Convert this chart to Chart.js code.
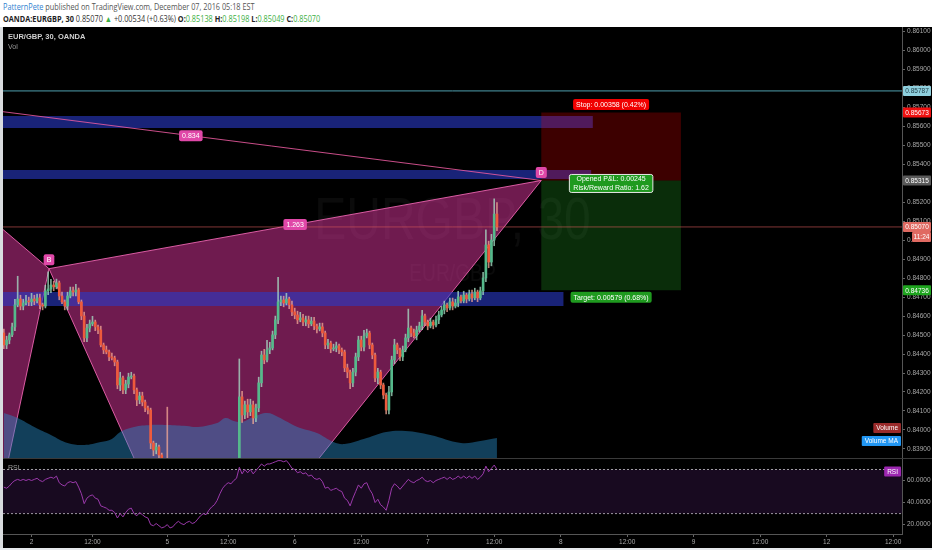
<!DOCTYPE html>
<html>
<head>
<meta charset="utf-8">
<script src="https://cdn.jsdelivr.net/npm/chart.js@4.4.1/dist/chart.umd.min.js"></script>
<style>
  html, body { margin: 0; padding: 0; width: 932px; height: 550px; overflow: hidden; background: #fff; }
  .hdr { position: absolute; left: 3px; white-space: nowrap; font-family: "Open Sans", sans-serif; font-size: 8.5px; color: #555; transform: scaleX(0.86); transform-origin: 0 0; }
  #hdr1 { top: 1px; }
  #hdr2 { top: 13px; color: #333; }
  #hdr1 .user { color: #2f7fd0; }
  #hdr2 b { font-weight: 700; color: #222; }
  #hdr2 .g { color: #3cb043; }
  #frame { position: absolute; left: 3px; top: 27px; width: 929px; height: 521px; background: #000; }
  #strip { position: absolute; left: 0; top: 548px; width: 932px; height: 2px; background: #e6e9ec; }
  #leftEdge { position: absolute; left: 0; top: 27px; width: 3px; height: 523px; background: #d9dcdf; }
  #mainWrap { position: absolute; left: 3px; top: 27px; }
  #rsiWrap { position: absolute; left: 3px; top: 459px; }
  #sep { position: absolute; left: 3px; top: 458px; width: 929px; height: 1px; background: #3a3a3a; }
</style>
</head>
<body>
<div id="hdr1" class="hdr"><span class="user">PatternPete</span> published on TradingView.com, December 07, 2016 05:18 EST</div>
<div id="hdr2" class="hdr"><b>OANDA:EURGBP, 30</b> 0.85070 <span class="g">&#9650;</span> +0.00534 (+0.63%) <b>O:</b><span class="g">0.85138</span> <b>H:</b><span class="g">0.85198</span> <b>L:</b><span class="g">0.85049</span> <b>C:</b><span class="g">0.85070</span></div>
<div id="leftEdge"></div>
<div id="frame"></div>
<div id="strip"></div>
<div id="mainWrap"><canvas id="mainChart" width="929" height="431"></canvas></div>
<div id="sep"></div>
<div id="rsiWrap"><canvas id="rsiChart" width="929" height="89"></canvas></div>

<script>
// ---- data (30 min bars, index 0 = first bar on screen) ----
const firstOpen = 0.84511;
const closes = [
  0.84448, 0.84474, 0.84501, 0.84543, 0.84659, 0.84690, 0.84653, 0.84669, 0.84680, 0.84675,
  0.84690, 0.84680, 0.84696, 0.84659, 0.84653, 0.84733, 0.84743, 0.84764, 0.84754, 0.84775,
  0.84706, 0.84675, 0.84653, 0.84706, 0.84733, 0.84727, 0.84738, 0.84675, 0.84601, 0.84485,
  0.84537, 0.84559, 0.84569, 0.84543, 0.84527, 0.84448, 0.84422, 0.84411, 0.84385, 0.84379,
  0.84358, 0.84237, 0.84274, 0.84211, 0.84242, 0.84279, 0.84284, 0.84211, 0.84158, 0.84179,
  0.84147, 0.84116, 0.84105, 0.83931, 0.83894, 0.83910, 0.83868, 0.83831, 0.83780, 0.83450,
  0.83320, 0.83250, 0.83300, 0.83180, 0.83220, 0.83150, 0.83200, 0.83120, 0.83090, 0.83140,
  0.83100, 0.83070, 0.83180, 0.83250, 0.83330, 0.83420, 0.83500, 0.83580, 0.83650, 0.83700,
  0.83720, 0.83760, 0.83740, 0.83780, 0.83800, 0.84174, 0.84079, 0.84132, 0.84095, 0.84132,
  0.84063, 0.84116, 0.84248, 0.84395, 0.84369, 0.84422, 0.84432, 0.84501, 0.84580, 0.84675,
  0.84685, 0.84669, 0.84690, 0.84659, 0.84622, 0.84606, 0.84580, 0.84590, 0.84569, 0.84580,
  0.84559, 0.84574, 0.84548, 0.84532, 0.84543, 0.84511, 0.84448, 0.84458, 0.84427, 0.84432,
  0.84443, 0.84422, 0.84411, 0.84327, 0.84305, 0.84248, 0.84305, 0.84385, 0.84474, 0.84437,
  0.84495, 0.84511, 0.84448, 0.84395, 0.84274, 0.84305, 0.84237, 0.84184, 0.84105, 0.84200,
  0.84369, 0.84448, 0.84422, 0.84385, 0.84422, 0.84485, 0.84537, 0.84511, 0.84495, 0.84527,
  0.84548, 0.84601, 0.84569, 0.84548, 0.84569, 0.84553, 0.84580, 0.84606, 0.84632, 0.84659,
  0.84643, 0.84675, 0.84653, 0.84669, 0.84701, 0.84680, 0.84711, 0.84690, 0.84717, 0.84696,
  0.84727, 0.84696, 0.84733, 0.84801, 0.84975, 0.84885, 0.85001, 0.85138, 0.85070
];
// wick lengths in pips above / below the body
const upWick = [
  2, 2, 1, 2, 3, 12, 2, 2, 3, 2,   3, 2, 2, 2, 1, 3, 9, 3, 2, 2,
  1, 2, 1, 2, 2, 2, 3, 1, 1, 2,    2, 2, 3, 1, 1, 2, 1, 2, 1, 2,
  1, 1, 3, 1, 2, 2, 2, 1, 1, 2,    2, 1, 1, 1, 1, 2, 1, 1, 1, 34,
  2, 2, 3, 2, 2, 2, 3, 2, 2, 2,    2, 2, 3, 3, 2, 3, 2, 3, 2, 3,
  2, 3, 2, 2, 2, 20, 3, 2, 3, 3,   2, 2, 3, 2, 3, 5, 3, 2, 2, 13,
  2, 2, 3, 1, 2, 2, 2, 3, 2, 2,    2, 2, 2, 1, 2, 2, 1, 2, 1, 2,
  2, 1, 1, 1, 2, 1, 2, 2, 2, 2,    3, 2, 1, 1, 1, 2, 1, 1, 1, 3,
  2, 3, 1, 1, 2, 2, 10, 1, 2, 2,   2, 3, 1, 1, 2, 1, 2, 2, 2, 2,
  1, 2, 2, 2, 3, 1, 2, 1, 2, 2,    2, 1, 2, 3, 8, 2, 3, 8, 6
];
const downWick = [
  2, 2, 2, 1, 2, 1, 2, 2, 1, 2,    2, 2, 1, 2, 2, 1, 2, 2, 2, 1,
  2, 1, 2, 2, 1, 2, 2, 1, 2, 2,    2, 2, 1, 2, 2, 1, 2, 1, 2, 1,
  2, 2, 3, 2, 2, 2, 1, 2, 3, 2,    2, 2, 2, 3, 3, 2, 3, 3, 4, 30,
  4, 3, 3, 4, 3, 4, 3, 3, 4, 3,    3, 4, 2, 2, 3, 2, 2, 3, 2, 2,
  2, 2, 3, 2, 2, 3, 4, 2, 3, 2,    3, 2, 2, 2, 2, 1, 2, 1, 2, 2,
  2, 2, 1, 2, 2, 2, 2, 1, 2, 2,    2, 1, 2, 2, 1, 2, 2, 2, 2, 1,
  2, 2, 2, 2, 3, 3, 2, 2, 2, 2,    2, 1, 2, 2, 2, 3, 2, 2, 2, 2,
  2, 2, 2, 2, 2, 1, 2, 2, 1, 2,    1, 2, 2, 2, 1, 2, 1, 2, 1, 2,
  2, 1, 2, 1, 2, 1, 1, 2, 1, 2,    1, 2, 1, 2, 2, 3, 2, 3, 2
];
const volumeMaBars = [0, 5, 11, 17, 23, 29, 35, 39, 42, 47, 53, 59, 66, 70, 77, 80, 83, 86, 90, 95, 99, 106, 113, 119, 123, 131, 138, 145, 154, 165, 172, 178];
const volumeMa = [45, 40, 31, 23, 15, 13, 16, 19, 26, 31, 33, 33, 32, 31, 35, 40, 37, 36, 41, 45, 41, 31, 25, 16, 14, 20, 26, 27, 23, 15, 17, 20];
const rsiValues = [
  54, 53, 55, 58, 60, 61, 60, 61, 60, 61,   60, 61, 62, 60, 59, 61, 62, 63, 62, 64,
  58, 56, 55, 58, 59, 58, 59, 54, 48, 39,   44, 46, 47, 44, 43, 37, 36, 35, 33, 33,
  31, 26, 30, 27, 31, 34, 35, 30, 28, 31,   29, 27, 26, 20, 19, 21, 19, 17, 18, 20,
  17, 18, 21, 23, 21, 20, 22, 23, 21, 22,   25, 28, 30, 29, 33, 36, 38, 42, 48, 53,
  56, 58, 57, 60, 62, 72, 66, 70, 67, 70,   66, 69, 72, 75, 73, 75, 75, 76, 77, 78,
  78, 77, 78, 75, 71, 70, 67, 68, 66, 67,   64, 65, 62, 61, 62, 59, 53, 54, 51, 52,
  53, 51, 50, 44, 42, 37, 44, 50, 56, 53,   57, 58, 52, 48, 40, 43, 38, 36, 33, 42,
  53, 57, 55, 52, 55, 58, 61, 59, 58, 60,   61, 63, 60, 59, 60, 58, 60, 61, 62, 63,
  61, 63, 61, 62, 64, 62, 64, 62, 64, 62,   64, 61, 63, 66, 73, 68, 71, 74, 70
];

// harmonic pattern points X A B C D
const patternNames = ['X', 'A', 'B', 'C', 'D'];
const patternBars = [-59, -5, 16.3, 71, 194];
const patternPrices = [0.85787, 0.83390, 0.84850, 0.83070, 0.85315];
const patternRatios = ['0.834', '1.263'];

// supply / demand zones
const zoneTops = [0.85655, 0.85370, 0.84727];
const zoneBottoms = [0.85592, 0.85323, 0.84653];
const zoneEnds = [212.6, 212, 202];

// short position tool
const positionBars = [194, 244.4];
const entryPrice = 0.85315;
const stopPrice = 0.85673;
const targetPrice = 0.84736;
const positionTexts = ['Stop: 0.00358 (0.42%)', 'Opened P&L: 0.00245', 'Risk/Reward Ratio: 1.62', 'Target: 0.00579 (0.68%)'];

const lastPrice = 0.85070;
const countdown = '11:24';
const priceTicks = [0.861, 0.860, 0.859, 0.858, 0.857, 0.856, 0.855, 0.854, 0.853, 0.852, 0.851, 0.850,
  0.849, 0.848, 0.847, 0.846, 0.845, 0.844, 0.843, 0.842, 0.841, 0.840, 0.839];
const rsiTicks = [20, 40, 60];
const rsiLevels = [70, 30];
const timeTickBars = [10, 32, 59, 81, 105, 129, 153, 177, 201, 225, 249, 273, 297, 321];
const timeTickLabels = ['2', '12:00', '5', '12:00', '6', '12:00', '7', '12:00', '8', '12:00', '9', '12:00', '12', '12:00'];

// ---- view ----
const X_MIN = -0.3;
const X_MAX = 324.2;
const P_MIN = 0.83852;
const P_MAX = 0.86124;
const PIP = 0.0001;
const FONT = '"Liberation Sans", Arial, sans-serif';
const UP = '#55b98b';
const DOWN = '#ee5a3c';

const candles = closes.map((c, i) => {
  const o = i === 0 ? firstOpen : closes[i - 1];
  return {
    o, c,
    h: Math.max(o, c) + upWick[i] * PIP,
    l: Math.min(o, c) - downWick[i] * PIP
  };
});

function pt(x, y) {
  return { x, y };
}

function rect(x0, x1, y0, y1) {
  return [pt(x0, y0), pt(x1, y0), pt(x1, y1), pt(x0, y1), pt(x0, y0)];
}

function shape(points, fillColor, borderColor, order) {
  return {
    type: 'line',
    data: points,
    fill: 'shape',
    backgroundColor: fillColor,
    borderColor: borderColor || 'rgba(0,0,0,0)',
    borderWidth: borderColor ? 1 : 0,
    pointRadius: 0,
    tension: 0,
    order
  };
}

function hline(points, color, order, dash) {
  return {
    type: 'line',
    data: points,
    fill: false,
    borderColor: color,
    borderWidth: 1,
    borderDash: dash || [],
    pointRadius: 0,
    tension: 0,
    order
  };
}

function tag(ctx, text, cx, cy, bg, fg, opts = {}) {
  const size = opts.size || 7;
  ctx.font = `${opts.bold ? 'bold ' : ''}${size}px ${FONT}`;
  const w = opts.width || ctx.measureText(text).width + 6;
  const h = opts.height || size + 4;
  const x = opts.left !== undefined ? opts.left : (opts.right !== undefined ? opts.right - w : cx - w / 2);
  ctx.fillStyle = bg;
  ctx.beginPath();
  ctx.roundRect(x, cy - h / 2, w, h, opts.radius === undefined ? 2 : opts.radius);
  ctx.fill();
  if (opts.border) {
    ctx.strokeStyle = opts.border;
    ctx.lineWidth = 1;
    ctx.stroke();
  }
  ctx.fillStyle = fg;
  ctx.textAlign = 'center';
  ctx.textBaseline = 'middle';
  ctx.fillText(text, x + w / 2, cy + 0.5);
}

const P = patternBars.map((b, i) => pt(b, patternPrices[i]));

const mainOverlay = {
  id: 'mainOverlay',
  beforeDatasetsDraw(chart) {
    const { ctx, chartArea: a } = chart;
    const cx = (a.left + a.right) / 2;
    ctx.save();
    ctx.fillStyle = 'rgba(255,255,255,0.045)';
    ctx.textAlign = 'center';
    ctx.textBaseline = 'middle';
    ctx.translate(cx, 0);
    ctx.scale(0.8, 1);
    ctx.font = `60px ${FONT}`;
    ctx.fillText('EURGBP, 30', 0, 195);
    ctx.font = `24px ${FONT}`;
    ctx.fillText('EUR/GBP', 0, 247);
    ctx.restore();
  },
  afterDatasetsDraw(chart) {
    const { ctx } = chart;
    const xs = chart.scales.x;
    const ys = chart.scales.y;
    const X = v => xs.getPixelForValue(v);
    const Y = v => ys.getPixelForValue(v);
    ctx.save();
    const pink = '#e048a8';
    // point labels
    tag(ctx, patternNames[2], X(P[2].x), Y(P[2].y) - 9, pink, '#fff', { size: 7 });
    tag(ctx, patternNames[4], X(P[4].x), Y(P[4].y) - 8, pink, '#fff', { size: 7 });
    // ratio labels at line midpoints
    tag(ctx, patternRatios[0], X((P[0].x + P[4].x) / 2), Y((P[0].y + P[4].y) / 2), pink, '#fff', { size: 7 });
    tag(ctx, patternRatios[1], X((P[2].x + P[4].x) / 2), Y((P[2].y + P[4].y) / 2), pink, '#fff', { size: 7 });
    // position labels
    const cx = X((positionBars[0] + positionBars[1]) / 2);
    tag(ctx, positionTexts[0], cx, Y(stopPrice) - 8, '#f00000', '#fff', { size: 7 });
    ctx.font = `7px ${FONT}`;
    const w = Math.max(ctx.measureText(positionTexts[1]).width, ctx.measureText(positionTexts[2]).width) + 8;
    const cy = Y(entryPrice) + 3;
    ctx.fillStyle = '#1f9a1f';
    ctx.strokeStyle = '#e8e8e8';
    ctx.lineWidth = 1;
    ctx.beginPath();
    ctx.roundRect(cx - w / 2, cy - 9, w, 18, 2);
    ctx.fill();
    ctx.stroke();
    ctx.fillStyle = '#fff';
    ctx.textAlign = 'center';
    ctx.textBaseline = 'middle';
    ctx.fillText(positionTexts[1], cx, cy - 4);
    ctx.fillText(positionTexts[2], cx, cy + 4.5);
    tag(ctx, positionTexts[3], cx, Y(targetPrice) + 7, '#1f9a1f', '#fff', { size: 7 });
    ctx.restore();
  },
  afterDraw(chart) {
    const { ctx, chartArea: a } = chart;
    const ys = chart.scales.y;
    const Y = v => ys.getPixelForValue(v);
    ctx.save();
    ctx.fillStyle = '#d0d0d0';
    ctx.textAlign = 'left';
    ctx.textBaseline = 'middle';
    ctx.font = `bold 7.5px ${FONT}`;
    ctx.fillText('EUR/GBP, 30, OANDA', a.left + 5, 10);
    ctx.font = `7px ${FONT}`;
    ctx.fillStyle = '#9a9a9a';
    ctx.fillText('Vol', a.left + 5, 20);
    // axis tags
    const tagOpts = { size: 6.5, left: a.right + 1, width: 28, height: 10, radius: 1 };
    tag(ctx, patternPrices[0].toFixed(5), 0, Y(patternPrices[0]), '#8fd0de', '#1c3a44', tagOpts);
    tag(ctx, stopPrice.toFixed(5), 0, Y(stopPrice), '#f01010', '#fff', tagOpts);
    tag(ctx, entryPrice.toFixed(5), 0, Y(entryPrice), '#5a5a5a', '#fff', tagOpts);
    tag(ctx, lastPrice.toFixed(5), 0, Y(lastPrice), '#e06a62', '#fff', tagOpts);
    tag(ctx, countdown, 0, Y(lastPrice) + 10, '#e06a62', '#fff', { size: 6.5, left: a.right + 10, width: 19, height: 10, radius: 1 });
    tag(ctx, targetPrice.toFixed(5), 0, Y(targetPrice), '#1fa51f', '#fff', tagOpts);
    // volume labels
    tag(ctx, 'Volume', 0, a.bottom - 30, '#9a2a2a', '#fff', { size: 6.5, right: a.right - 1, height: 10, radius: 1 });
    tag(ctx, 'Volume MA', 0, a.bottom - 17, '#2196f3', '#fff', { size: 6.5, right: a.right - 1, height: 10, radius: 1 });
    ctx.restore();
  }
};

new Chart(document.getElementById('mainChart'), {
  type: 'bar',
  data: {
    datasets: [
      {
        type: 'bar',
        data: candles.map((k, i) => ({ x: i, y: [k.o, k.c] })),
        backgroundColor: ctx => (candles[ctx.dataIndex].c >= candles[ctx.dataIndex].o ? UP : DOWN),
        barThickness: 2,
        minBarLength: 1,
        grouped: false,
        order: 0
      },
      {
        type: 'bar',
        data: candles.map((k, i) => ({ x: i, y: [k.l, k.h] })),
        backgroundColor: ctx => (candles[ctx.dataIndex].c >= candles[ctx.dataIndex].o ? 'rgba(170,225,200,0.75)' : 'rgba(245,170,150,0.75)'),
        barThickness: 1,
        grouped: false,
        order: 1
      },
      {
        type: 'line',
        yAxisID: 'yVol',
        data: volumeMaBars.map((b, i) => pt(b, volumeMa[i])),
        fill: 'origin',
        backgroundColor: 'rgba(40,140,200,0.45)',
        borderWidth: 0,
        borderColor: 'rgba(0,0,0,0)',
        pointRadius: 0,
        tension: 0.4,
        order: 2
      },
      hline([pt(X_MIN, lastPrice), pt(X_MAX, lastPrice)], 'rgba(215,90,90,0.6)', 3),
      hline([pt(X_MIN, patternPrices[0]), pt(X_MAX, patternPrices[0])], '#4f9fae', 3),
      hline([P[0], P[4]], 'rgba(235,90,160,0.85)', 3),
      shape(rect(positionBars[0], positionBars[1], entryPrice, stopPrice), 'rgba(255,0,0,0.24)', null, 4),
      shape(rect(positionBars[0], positionBars[1], targetPrice, entryPrice), 'rgba(40,190,40,0.24)', null, 4),
      shape(rect(X_MIN, zoneEnds[0], zoneBottoms[0], zoneTops[0]), 'rgba(42,58,200,0.6)', null, 5),
      shape(rect(X_MIN, zoneEnds[1], zoneBottoms[1], zoneTops[1]), 'rgba(42,58,200,0.6)', null, 5),
      shape(rect(X_MIN, zoneEnds[2], zoneBottoms[2], zoneTops[2]), 'rgba(42,58,200,0.6)', null, 5),
      shape([P[0], P[1], P[2], P[0]], 'rgba(222,54,158,0.5)', 'rgba(235,100,175,0.9)', 6),
      shape([P[2], P[3], P[4], P[2]], 'rgba(222,54,158,0.5)', 'rgba(235,100,175,0.9)', 6)
    ]
  },
  options: {
    responsive: false,
    animation: false,
    devicePixelRatio: 1,
    layout: { padding: 0 },
    plugins: { legend: { display: false }, tooltip: { enabled: false } },
    scales: {
      x: { type: 'linear', min: X_MIN, max: X_MAX, display: false, offset: false },
      y: {
        position: 'right',
        min: P_MIN,
        max: P_MAX,
        afterFit: s => { s.width = 30; s.paddingTop = 0; s.paddingBottom = 0; },
        afterBuildTicks: s => { s.ticks = priceTicks.map(v => ({ value: v })); },
        ticks: {
          callback: v => Number(v).toFixed(5),
          color: '#a8a8a8',
          font: { size: 6.5, family: FONT },
          padding: 2,
          autoSkip: false
        },
        grid: { drawOnChartArea: false, color: '#666', tickLength: 3 },
        border: { color: '#555' }
      },
      yVol: { display: false, min: 0, max: 431 }
    }
  },
  plugins: [mainOverlay]
});

const rsiOverlay = {
  id: 'rsiOverlay',
  afterDraw(chart) {
    const { ctx, chartArea: a } = chart;
    const Y = v => chart.scales.y.getPixelForValue(v);
    ctx.save();
    ctx.fillStyle = '#9a9a9a';
    ctx.font = `7px ${FONT}`;
    ctx.textAlign = 'left';
    ctx.textBaseline = 'middle';
    ctx.fillText('RSI', a.left + 5, 9);
    tag(ctx, 'RSI', 0, Y(rsiValues[rsiValues.length - 1]) + 2, '#9c27b0', '#fff', { size: 6.5, right: a.right - 1, height: 10, radius: 1 });
    ctx.restore();
  }
};

new Chart(document.getElementById('rsiChart'), {
  type: 'line',
  data: {
    datasets: [
      {
        data: rsiValues.map((v, i) => pt(i, v)),
        borderColor: '#9b39ab',
        borderWidth: 1,
        pointRadius: 0,
        tension: 0,
        fill: false,
        order: 0
      },
      {
        data: [pt(X_MIN, rsiLevels[0]), pt(X_MAX, rsiLevels[0])],
        borderColor: 'rgba(230,230,230,0.7)',
        borderDash: [2, 2],
        borderWidth: 1,
        pointRadius: 0,
        fill: '+1',
        backgroundColor: 'rgba(120,50,160,0.2)',
        order: 1
      },
      {
        data: [pt(X_MIN, rsiLevels[1]), pt(X_MAX, rsiLevels[1])],
        borderColor: 'rgba(230,230,230,0.7)',
        borderDash: [2, 2],
        borderWidth: 1,
        pointRadius: 0,
        fill: false,
        order: 1
      }
    ]
  },
  options: {
    responsive: false,
    animation: false,
    devicePixelRatio: 1,
    layout: { padding: 0 },
    plugins: { legend: { display: false }, tooltip: { enabled: false } },
    scales: {
      x: {
        type: 'linear',
        min: X_MIN,
        max: X_MAX,
        offset: false,
        afterFit: s => { s.height = 14; s.paddingLeft = 0; s.paddingRight = 0; },
        afterBuildTicks: s => { s.ticks = timeTickBars.map(v => ({ value: v })); },
        ticks: {
          callback: (v, i) => timeTickLabels[i],
          color: '#a8a8a8',
          font: { size: 6.5, family: FONT },
          maxRotation: 0,
          autoSkip: false,
          padding: 1
        },
        grid: { drawOnChartArea: false, color: '#666', tickLength: 3 },
        border: { color: '#555' }
      },
      y: {
        position: 'right',
        min: 11.5,
        max: 79.5,
        afterFit: s => { s.width = 30; s.paddingTop = 0; s.paddingBottom = 0; },
        afterBuildTicks: s => { s.ticks = rsiTicks.map(v => ({ value: v })); },
        ticks: {
          callback: v => Number(v).toFixed(4),
          color: '#a8a8a8',
          font: { size: 6.5, family: FONT },
          padding: 2
        },
        grid: { drawOnChartArea: false, color: '#666', tickLength: 3 },
        border: { color: '#555' }
      }
    }
  },
  plugins: [rsiOverlay]
});
</script>
</body>
</html>
